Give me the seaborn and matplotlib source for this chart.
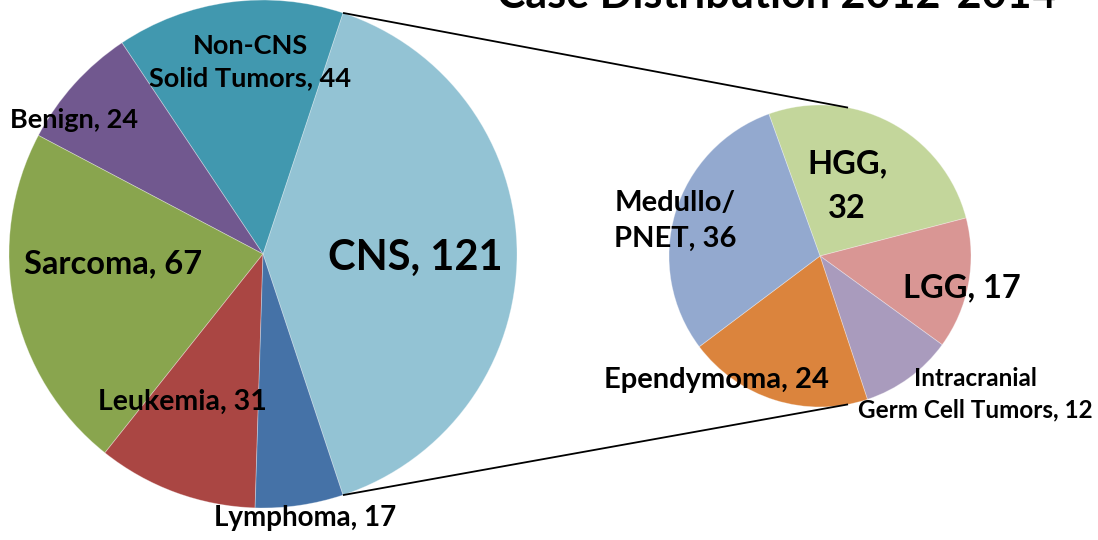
import numpy as np
import matplotlib
matplotlib.use("Agg")
import matplotlib.pyplot as plt
import seaborn as sns

# ---- data ----
main_categories = ["CNS", "Non-CNS\nSolid Tumors", "Benign", "Sarcoma", "Leukemia", "Lymphoma"]
main_values = [121, 44, 24, 67, 31, 17]
main_colors = ["#93C3D4", "#4198AF", "#71588F", "#89A54E", "#AA4643", "#4572A7"]

sub_categories = ["HGG", "LGG", "Intracranial\nGerm Cell Tumors", "Ependymoma", "Medullo/\nPNET"]
sub_values = [32, 17, 12, 24, 36]
sub_colors = ["#C3D69B", "#D99694", "#A99BBD", "#DB843D", "#93A9CF"]
sub_separators = [",\n", ", ", ", ", ", ", ", "]

title = "Case Distribution 2012-2014"

# ---- style ----
sns.set_theme(style="white")
plt.rcParams["font.family"] = ["Lato", "DejaVu Sans"]

W, H = 1098, 540
fig = plt.figure(figsize=(W / 100, H / 100), dpi=100)
ax = fig.add_axes([0, 0, 1, 1])

def yu(y_img):
    return H - y_img

# main pie
main_center = (263, yu(254))
main_r = 254
wedges_main, _ = ax.pie(main_values, colors=main_colors, startangle=-71.65,
                        counterclock=True, center=main_center, radius=main_r,
                        wedgeprops=dict(linewidth=0.6, edgecolor=(1, 1, 1, 0.35)),
                        frame=True)

# sub pie
sub_center = (820, yu(256))
sub_r = 151
wedges_sub, _ = ax.pie(sub_values, colors=sub_colors, startangle=109.8,
                       counterclock=False, center=sub_center, radius=sub_r,
                       wedgeprops=dict(linewidth=0.6, edgecolor=(1, 1, 1, 0.35)),
                       frame=True)
ax.set_xlim(0, W)
ax.set_ylim(0, H)
ax.axis("off")

# connector lines from the CNS wedge edges to the sub pie
w0 = wedges_main[0]
for ang_main, ang_sub in [(w0.theta2, 79.3), (w0.theta1, -79.3)]:
    x0 = main_center[0] + main_r * np.cos(np.radians(ang_main))
    y0 = main_center[1] + main_r * np.sin(np.radians(ang_main))
    x1 = sub_center[0] + sub_r * np.cos(np.radians(ang_sub))
    y1 = sub_center[1] + sub_r * np.sin(np.radians(ang_sub))
    ax.plot([x0, x1], [y0, y1], color="black", lw=1.3, solid_capstyle="butt")

# labels (position in image pixels, font size, line spacing)
main_label_layout = [((415, 258), 30, 1.2), ((250, 62), 19.5, 1.45), ((74, 120), 19.5, 1.2),
                     ((113, 264), 23.5, 1.2), ((182, 402), 20.5, 1.2), ((305, 518), 20, 1.2)]
for cat, val, ((lx, ly), fs, ls) in zip(main_categories, main_values, main_label_layout):
    ax.text(lx, yu(ly), f"{cat}, {val}", ha="center", va="center",
            fontsize=fs, fontweight="bold", color="black", linespacing=ls)

sub_label_layout = [((847, 186), 23.5, 1.65), ((962, 288), 23.5, 1.2), ((975, 394), 17.5, 1.45),
                    ((716, 380), 21, 1.2), ((675, 221), 21, 1.5)]
for cat, val, sep, ((lx, ly), fs, ls) in zip(sub_categories, sub_values, sub_separators, sub_label_layout):
    ax.text(lx, yu(ly), f"{cat}{sep}{val}", ha="center", va="center",
            fontsize=fs, fontweight="bold", color="black", linespacing=ls)

ax.text(777, yu(8), title, ha="center", va="baseline", fontsize=31,
        fontweight="bold", color="black")

fig.savefig("out.png", dpi=100, facecolor="white")
